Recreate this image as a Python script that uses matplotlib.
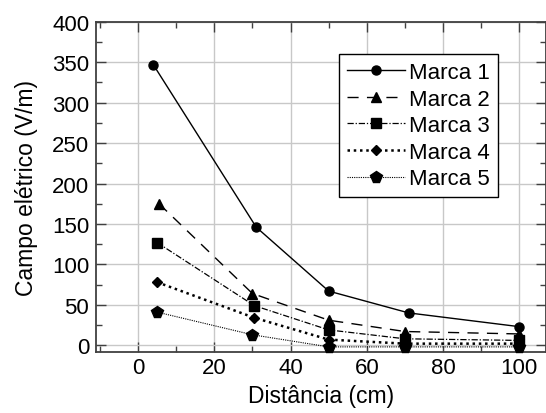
import matplotlib
matplotlib.use("Agg")
import matplotlib.pyplot as plt
from matplotlib.ticker import MultipleLocator

plt.rcParams['font.family'] = ['Liberation Sans', 'DejaVu Sans']

labels = ["Marca 1", "Marca 2", "Marca 3", "Marca 4", "Marca 5"]
x1 = [4, 31, 50, 71, 100]
x2 = [5.5, 30, 50, 70, 100]
x3 = [5, 30.5, 50, 70, 100]
x4 = [5, 30.5, 50, 70, 100]
x5 = [5, 30, 50, 70, 100]
y1 = [347, 146, 67, 40, 23]
y2 = [175, 64, 31, 17, 14]
y3 = [127, 49, 19, 8, 6]
y4 = [78, 34, 7, 2, 2]
y5 = [41, 13, -2, -2, -2]

fig = plt.figure(figsize=(5.46, 4.14), dpi=100)
ax = fig.add_axes([0.176, 0.147, 0.824, 0.798])

styles = [
    dict(ls='-', marker='o', ms=6.5, lw=1.0),
    dict(ls=(0, (8, 6)), marker='^', ms=7, lw=1.0),
    dict(ls=(0, (5, 1.5, 1, 1.5)), marker='s', ms=7.5, lw=0.9),
    dict(ls=(0, (1, 1.5)), marker='D', ms=5.5, lw=1.8),
    dict(ls=(0, (1, 1)), marker='p', ms=8.5, lw=0.8),
]
xs = [x1, x2, x3, x4, x5]
ys = [y1, y2, y3, y4, y5]
for x, y, lab, st in zip(xs, ys, labels, styles):
    ax.plot(x, y, color='black', label=lab, markerfacecolor='black',
            markeredgecolor='black', clip_on=False, zorder=3, **st)

ax.set_xlim(-11, 107)
ax.set_ylim(-8.5, 400)
ax.xaxis.set_major_locator(MultipleLocator(20))
ax.xaxis.set_minor_locator(MultipleLocator(10))
ax.yaxis.set_major_locator(MultipleLocator(50))
ax.yaxis.set_minor_locator(MultipleLocator(25))
ax.grid(True, which='major', color='#c8c8c8', lw=1.0, zorder=0)
ax.set_axisbelow(True)
ax.tick_params(which='both', direction='in', top=True, right=True,
               labelsize=16, color='#404040')
ax.tick_params(axis='y', pad=5)
ax.tick_params(which='major', length=7, width=1)
ax.tick_params(which='minor', length=4, width=1)
for s in ax.spines.values():
    s.set_color('#404040')
    s.set_linewidth(1.3)

ax.set_xlabel('Distância (cm)', fontsize=16.5, labelpad=4)
ax.set_ylabel('Campo elétrico (V/m)', fontsize=16.5, labelpad=10)

leg = ax.legend(loc='upper right', bbox_to_anchor=(0.918, 0.935), fontsize=16,
                frameon=True, fancybox=False, edgecolor='black',
                framealpha=1, handlelength=2.6, handletextpad=0.2,
                labelspacing=0.25, borderpad=0.35)
leg.get_frame().set_linewidth(1.0)

fig.savefig('out.png', dpi=100)
